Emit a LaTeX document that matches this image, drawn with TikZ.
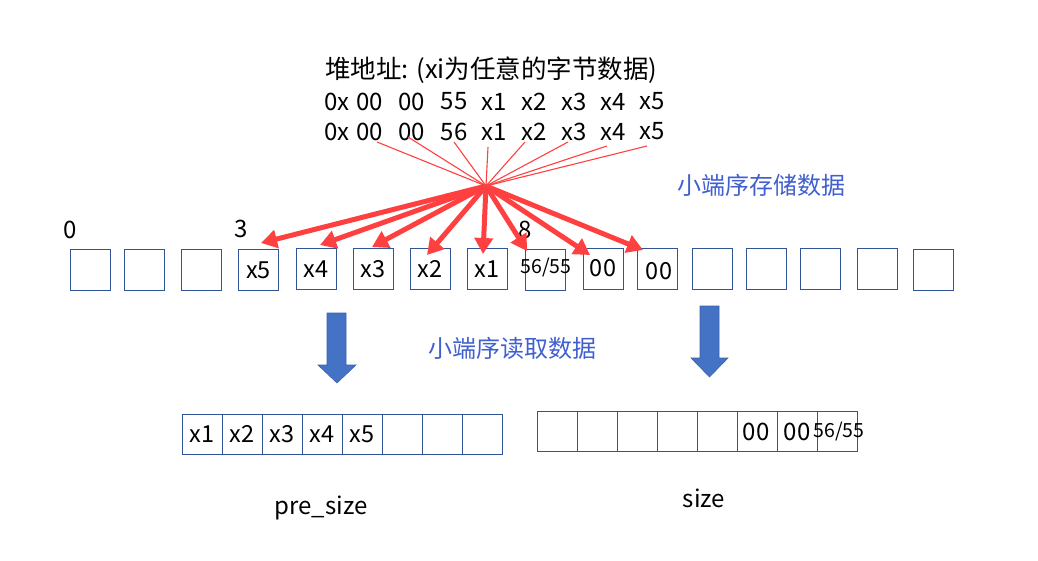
\documentclass[tikz,border=0pt]{standalone}
\usepackage{fontspec}
\setmainfont{Noto Sans CJK SC}
\usetikzlibrary{arrows.meta,calc}
\definecolor{boxblue}{RGB}{47,85,151}
\definecolor{arrblue}{RGB}{68,114,196}
\definecolor{arredge}{RGB}{58,98,173}
\definecolor{txtblue}{RGB}{64,96,208}
\definecolor{myred}{RGB}{255,64,64}
\begin{document}
\begin{tikzpicture}[x=1pt,y=-1pt,
  cell/.style={draw=boxblue,line width=1pt,minimum width=40pt,minimum height=40pt,inner sep=0pt,
    font=\fontsize{23.5}{26}\selectfont},
  lbl/.style={inner sep=0pt,font=\fontsize{24}{28}\selectfont},
  ttl/.style={inner sep=0pt,font=\fontsize{25.5}{30}\selectfont},
  small/.style={font=\fontsize{19.5}{22}\selectfont},
  thin/.style={draw=myred,line width=1.1pt},
  thick/.style={draw=myred,line width=5pt,-{Triangle[length=16pt,width=18pt]}},
  bluetxt/.style={inner sep=0pt,text=txtblue,font=\fontsize{24}{28}\selectfont},
  blockarr/.style={fill=arrblue,draw=arredge,line width=0.6pt}]
\useasboundingbox (0,0) rectangle (1038,561);

% heap address text
\node[ttl,anchor=west] (title) at (325,70) {堆地址: (xi为任意的字节数据)};
\foreach \t/\x [count=\i] in {0x/337,00/369.5,00/411.5,55/454,x1/494,x2/534.5,x3/574,x4/613.5,x5/652}{
  \node[lbl] (a\i) at (\x,101.5) {\t};
}
\foreach \t/\x [count=\i] in {0x/337,00/369.5,00/411.5,56/454,x1/494,x2/534.5,x3/574,x4/613.5,x5/652}{
  \node[lbl] (c\i) at (\x,131.5) {\t};
}

% index labels
\node[lbl] (i0) at (70,230) {0};
\node[lbl] (i3) at (241,229) {3};
\node[lbl] (i8) at (525,230) {8};

% memory cells
\node[cell] (b1) at (90,270) {};
\node[cell] (b2) at (144.5,270) {};
\node[cell] (b3) at (201.5,270) {};
\node[cell] (b4) at (258.5,270) {x5};
\node[cell] (b5) at (316,269) {x4};
\node[cell] (b6) at (373,269) {x3};
\node[cell] (b7) at (430,269) {x2};
\node[cell] (b8) at (487,269) {x1};
\node[cell] (b9) at (545,270) {};
\node[small,inner sep=0pt] (b9t) at (546,268) {56/55};
\node[cell] (b10) at (603,269) {};
\node[cell,draw=none] (b10t) at (603,268) {00};
\node[cell] (b11) at (657,269) {};
\node[cell,draw=none] (b11t) at (659,271) {00};
\node[cell] (b12) at (712,269) {};
\node[cell] (b13) at (766,269) {};
\node[cell] (b14) at (820,269) {};
\node[cell] (b15) at (877,269) {};
\node[cell] (b16) at (933,270) {};

% hub and thin lines
\coordinate (hub) at (486,186);
\coordinate (s1) at (377,142);
\coordinate (s2) at (408,137);
\coordinate (s3) at (454,142);
\coordinate (s4) at (488,147);
\coordinate (s5) at (525,142);
\coordinate (s6) at (568,142);
\coordinate (s7) at (607,146);
\coordinate (s8) at (647,146);
\foreach \i in {1,...,8}{ \draw[thin] (s\i) -- (hub); }

% thick arrows
\coordinate (t1) at (261,243);
\coordinate (t2) at (320,245);
\coordinate (t3) at (372,247);
\coordinate (t4) at (427,255);
\coordinate (t5) at (483,254);
\coordinate (t6) at (527,251);
\coordinate (t7) at (590,255);
\coordinate (t8) at (643,250);
\foreach \i in {1,...,8}{ \draw[thick] (hub) -- (t\i); }

% blue texts
\node[bluetxt] (store) at (761,185) {小端序存储数据};
\node[bluetxt] (read) at (512,348) {小端序读取数据};

% block arrows
\draw[blockarr] (327,313) -- (346,313) -- (346,365) -- (356,365) -- (337,383) -- (318,365) -- (327,365) -- cycle;
\draw[blockarr] (700,306) -- (719,306) -- (719,358) -- (728,358) -- (709.5,377) -- (691,358) -- (700,358) -- cycle;

% bottom left row
\foreach \t [count=\i] in {x1,x2,x3,x4,x5,{},{},{}}{
  \node[cell] (p\i) at ({162+40*\i},434) {\t};
}
% bottom right row
\foreach \i in {1,...,8}{
  \node[cell] (q\i) at ({517+40*\i},431.5) {};
}
\node[lbl] (q6t) at (756,432) {00};
\node[lbl] (q7t) at (797,432) {00};
\node[small,inner sep=0pt] (q8t) at (839,432) {56/55};

\node[lbl] (pre) at (321,508) {pre\_size};
\node[lbl] (sz) at (704,498) {size};
\end{tikzpicture}
\end{document}
